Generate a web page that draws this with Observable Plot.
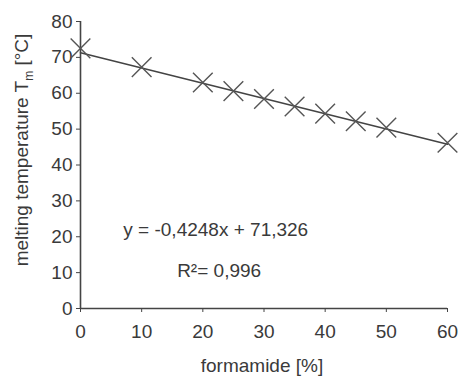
<!DOCTYPE html>
<html><head><meta charset="utf-8">
<script src="https://cdn.jsdelivr.net/npm/d3@7"></script>
<script src="https://cdn.jsdelivr.net/npm/@observablehq/plot@0.6"></script>
<style>body{margin:0;background:#fff}</style>
</head><body><div id="chart"></div>
<script>
const formamide = [0, 10, 20, 25, 30, 35, 40, 45, 50, 60];
const tm = [72.5, 67.3, 63.0, 60.6, 58.4, 56.3, 54.3, 52.2, 50.4, 46.2];
const fitX = [0, 60];
const fitY = [71.3, 45.8];
const xTicks = [0, 10, 20, 30, 40, 50, 60];
const yTicks = [0, 10, 20, 30, 40, 50, 60, 70, 80];
const eqText = "y = -0,4248x + 71,326";
const r2Text = "R²= 0,996";
const eqPos = {x: 7, y: 22};
const r2Pos = {x: 15.8, y: 10.6};
const xLabel = "formamide [%]";
const yLabelMain = "melting temperature T";
const yLabelSub = "m";
const yLabelEnd = " [°C]";

const points = formamide.map((f, i) => ({f, t: tm[i]}));
const fit = fitX.map((f, i) => ({f, t: fitY[i]}));

const ink = "#3a3a3a";
const plot = Plot.plot({
  width: 460, height: 377,
  marginLeft: 80, marginRight: 13, marginTop: 21, marginBottom: 69,
  style: {fontFamily: "'Liberation Sans', Arial, sans-serif", fontSize: "19px", color: ink, background: "#fff"},
  x: {domain: [0, 60]},
  y: {domain: [0, 80]},
  marks: [
    Plot.axisY({ticks: yTicks, tickSize: 4, tickPadding: 4, label: null, stroke: "#444", fill: ink}),
    Plot.axisX({ticks: xTicks, tickSize: 4, tickPadding: 11.5, label: null, stroke: "#444", fill: ink}),
    Plot.ruleX([0], {stroke: "#444", strokeWidth: 1.6}),
    Plot.ruleY([0], {stroke: "#444", strokeWidth: 1.6}),
    Plot.line(fit, {x: "f", y: "t", stroke: "#444", strokeWidth: 1.6}),
    Plot.dot(points, {x: "f", y: "t", symbol: "times", r: 9, stroke: "#555", strokeWidth: 1.4}),
    Plot.text([eqText], {x: () => eqPos.x, y: () => eqPos.y, text: d => d, textAnchor: "start", fill: ink, fontSize: 19}),
    Plot.text([r2Text], {x: () => r2Pos.x, y: () => r2Pos.y, text: d => d, textAnchor: "start", fill: ink, fontSize: 19})
  ]
});
document.getElementById("chart").append(plot);

const svg = d3.select(plot);
svg.append("text")
  .attr("x", 262).attr("y", 372)
  .attr("text-anchor", "middle")
  .attr("fill", ink)
  .style("font-family", "'Liberation Sans', Arial, sans-serif")
  .style("font-size", "19px")
  .text(xLabel);
const yl = svg.append("text")
  .attr("transform", "translate(28,150) rotate(-90)")
  .attr("text-anchor", "middle")
  .attr("fill", ink)
  .style("font-family", "'Liberation Sans', Arial, sans-serif")
  .style("font-size", "19px");
yl.append("tspan").text(yLabelMain);
yl.append("tspan").attr("dy", 5).style("font-size", "12px").text(yLabelSub);
yl.append("tspan").attr("dy", -5).text(yLabelEnd);
</script>
</body></html>
